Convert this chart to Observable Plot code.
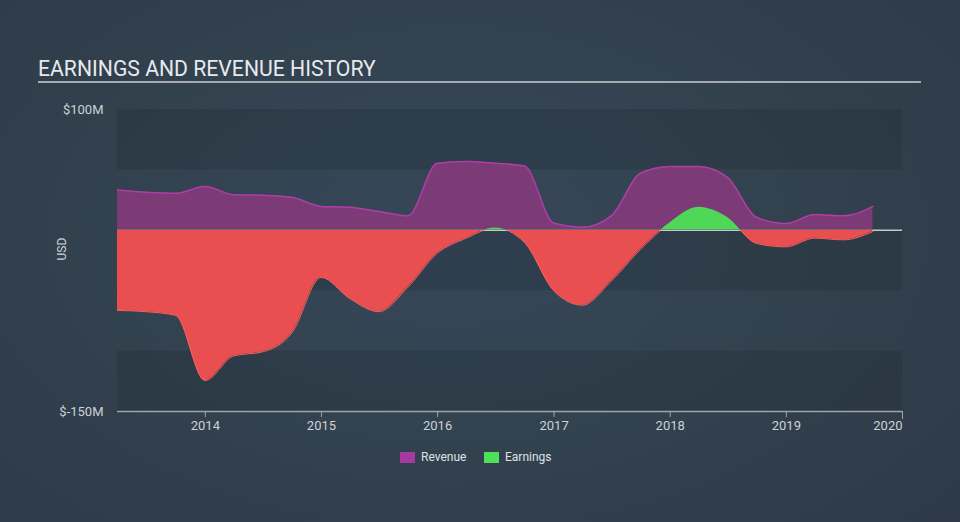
<!DOCTYPE html>
<html>
<head>
<meta charset="utf-8">
<script src="https://cdn.jsdelivr.net/npm/d3@7"></script>
<script src="https://cdn.jsdelivr.net/npm/@observablehq/plot@0.6"></script>
<style>
  html, body { margin: 0; padding: 0; }
  body {
    width: 960px; height: 522px; overflow: hidden;
    background: radial-gradient(ellipse 75% 85% at 47% 45%, #36475a 0%, #33424f 45%, #2d3946 100%);
    font-family: Roboto, "Noto Sans", sans-serif;
  }
  #wrap { position: relative; width: 960px; height: 522px; }
  #title {
    position: absolute; left: 38px; top: 57px; width: 883px;
    font-size: 21.2px; line-height: 24px; color: #e7eaed;
    border-bottom: 2px solid #a4abb3; white-space: nowrap;
  }
  #chart { position: absolute; left: 0; top: 0; }
  .leg { position: absolute; top: 452px; height: 11px; width: 15px; }
  .legt { position: absolute; top: 449px; font-size: 12px; line-height: 16px; color: #dfe3e7; }
</style>
</head>
<body>
<div id="wrap">
  <div id="chart"></div>
  <div id="title">EARNINGS AND REVENUE HISTORY</div>
  <div id="legend"></div>
</div>
<script>
// ---- data (USD millions, quarterly trailing figures) ----
const dates = [
  "2013-03-31","2013-06-30","2013-09-30","2013-12-31",
  "2014-03-31","2014-06-30","2014-09-30","2014-12-31",
  "2015-03-31","2015-06-30","2015-09-30","2015-12-31",
  "2016-03-31","2016-06-30","2016-09-30","2016-12-31",
  "2017-03-31","2017-06-30","2017-09-30","2017-12-31",
  "2018-03-31","2018-06-30","2018-09-30","2018-12-31",
  "2019-03-31","2019-06-30","2019-09-30"
];
const revenue = [
  33.4, 31.5, 30.6, 36.2,
  29.5, 29.0, 27.4, 19.8,
  19.0, 15.6, 12.0, 55.5,
  57.0, 55.5, 53.2, 6.0,
  2.6, 12.0, 47.3, 52.8,
  52.9, 43.8, 10.6, 5.6,
  13.0, 12.0, 19.8
];
const earnings = [
  -66.3, -67.4, -70.5, -124.4,
  -104.0, -100.6, -85.0, -39.0,
  -56.5, -67.4, -47.0, -19.0,
  -6.5, 2.0, -10.0, -50.0,
  -62.0, -42.0, -15.6, 6.0,
  19.0, 10.6, -11.0, -13.7,
  -6.5, -7.9, -1.0
];
const yTicks = [100, -150];
const xTickYears = [2014, 2015, 2016, 2017, 2018, 2019, 2020];
const bandEdges = [[100, 50], [0, -50], [-100, -150]];
const seriesNames = ["Revenue", "Earnings"];
const seriesColors = ["#a53a9f", "#4fe05a"];

const data = dates.map((d, i) => ({date: new Date(d), revenue: revenue[i], earnings: earnings[i]}));
const tickDates = xTickYears.map(y => new Date(Date.UTC(y, 0, 1)));

const axisColor = "#9aa5b1";
const textColor = "#ccd1d7";

const plot = Plot.plot({
  width: 960,
  height: 522,
  marginLeft: 117,
  marginRight: 58,
  marginTop: 109,
  marginBottom: 111,
  style: {background: "transparent", fontFamily: "Roboto, 'Noto Sans', sans-serif", fontSize: "13px", color: textColor, overflow: "visible"},
  x: {type: "utc", domain: [new Date(dates[0]), new Date("2020-01-01")]},
  y: {domain: [-150, 100]},
  marks: [
    Plot.rect(bandEdges, {y1: d => d[0], y2: d => d[1], fill: "#1c2631", fillOpacity: 0.25}),
    Plot.ruleY([0], {stroke: "#c3c9cf", strokeWidth: 1.5}),
    // area #0 revenue
    Plot.areaY(data, {x: "date", y: "revenue", curve: "monotone-x", fill: "#7c3a77"}),
    // line #0 revenue edge
    Plot.lineY(data, {x: "date", y: "revenue", curve: "monotone-x", stroke: "#ab3fa3", strokeWidth: 1.5}),
    // area #1 earnings (negative part, red)
    Plot.areaY(data, {x: "date", y: "earnings", curve: "monotone-x", fill: "#e94f51"}),
    // line #1 earnings edge (negative part)
    Plot.lineY(data, {x: "date", y: "earnings", curve: "monotone-x", stroke: "#f7625e", strokeWidth: 1}),
    // area #2 earnings (positive part, green)
    Plot.areaY(data, {x: "date", y: "earnings", curve: "monotone-x", fill: "#4fd858"}),
    Plot.ruleY([-150], {stroke: axisColor, strokeWidth: 1.5}),
    Plot.axisX({ticks: tickDates.slice(0, -1), tickFormat: d => String(d.getUTCFullYear()), tickSize: 6, tickPadding: 3, stroke: axisColor, fill: textColor, label: null}),
    Plot.axisX({ticks: tickDates.slice(-1), tickFormat: d => String(d.getUTCFullYear()), tickSize: 8, tickPadding: 1, stroke: axisColor, fill: textColor, textAnchor: "end", label: null}),
    Plot.axisY({ticks: yTicks, tickFormat: d => `$${d}M`, tickSize: 0, tickPadding: 14, fill: textColor, label: null}),
    Plot.text(["USD"], {frameAnchor: "left", dx: -55, rotate: -90, fill: textColor, fontSize: 12})
  ]
});

// clip earnings at zero so that positive is green, negative is red
const y0 = plot.scale("y").apply(0);
const ns = "http://www.w3.org/2000/svg";
const defs = document.createElementNS(ns, "defs");
function addClip(id, yTop, h) {
  const cp = document.createElementNS(ns, "clipPath");
  cp.setAttribute("id", id);
  const r = document.createElementNS(ns, "rect");
  r.setAttribute("x", 0); r.setAttribute("y", yTop);
  r.setAttribute("width", 960); r.setAttribute("height", h);
  cp.appendChild(r); defs.appendChild(cp);
}
addClip("clipPos", 0, y0);
addClip("clipNeg", y0, 522 - y0);
plot.insertBefore(defs, plot.firstChild);
const areas = plot.querySelectorAll('g[aria-label="area"]');
const lines = plot.querySelectorAll('g[aria-label="line"]');
if (areas[1]) areas[1].setAttribute("clip-path", "url(#clipNeg)");
if (lines[1]) lines[1].setAttribute("clip-path", "url(#clipNeg)");
if (areas[2]) areas[2].setAttribute("clip-path", "url(#clipPos)");

document.getElementById("chart").appendChild(plot);

// legend
const legend = document.getElementById("legend");
const legX = [400, 484];
seriesNames.forEach((name, i) => {
  const sw = document.createElement("div");
  sw.className = "leg";
  sw.style.left = legX[i] + "px";
  sw.style.background = seriesColors[i];
  legend.appendChild(sw);
  const t = document.createElement("div");
  t.className = "legt";
  t.style.left = (legX[i] + 21) + "px";
  t.textContent = name;
  legend.appendChild(t);
});
</script>
</body>
</html>
